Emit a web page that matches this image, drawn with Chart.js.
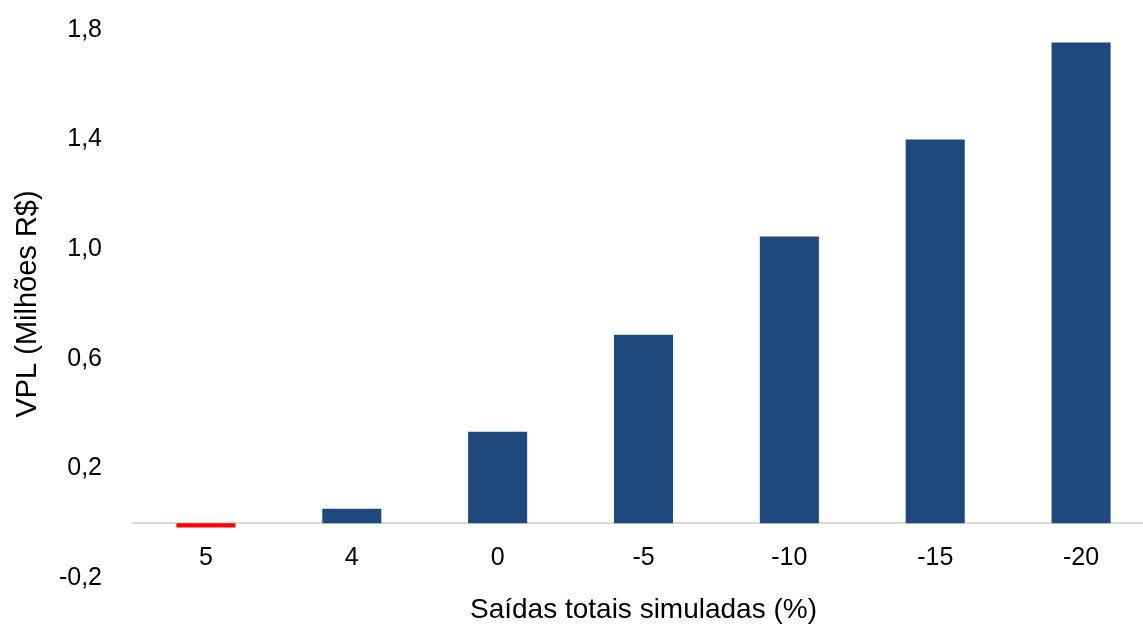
<!DOCTYPE html>
<html lang="pt-BR">
<head>
<meta charset="utf-8">
<title>VPL por saídas totais simuladas</title>
<script src="https://cdn.jsdelivr.net/npm/chart.js@4/dist/chart.umd.min.js"></script>
<style>
  html, body { margin: 0; padding: 0; background: #ffffff; overflow: hidden; }
  #wrap { position: relative; width: 1154px; height: 630px; }
</style>
</head>
<body>
<div id="wrap"><canvas id="chart"></canvas></div>
<script>
// Cenários de saídas totais simuladas (%)
const categories = ['5', '4', '0', '-5', '-10', '-15', '-20'];
// VPL em milhões de R$
const vplValues = [-0.016, 0.053, 0.334, 0.688, 1.046, 1.40, 1.754];
// Rótulos do eixo vertical
const yTickValues = [-0.2, 0.2, 0.6, 1.0, 1.4, 1.8];

const positiveColor = '#1F497D';
const negativeColor = '#FF0000';
const fontFamily = '"Liberation Sans", Arial, sans-serif';

const barColors = vplValues.map(v => (v < 0 ? negativeColor : positiveColor));

new Chart(document.getElementById('chart'), {
  type: 'bar',
  data: {
    labels: categories,
    datasets: [{
      data: vplValues,
      backgroundColor: barColors,
      borderWidth: 0,
      barPercentage: 0.405,
      categoryPercentage: 1.0
    }]
  },
  options: {
    responsive: true,
    maintainAspectRatio: false,
    animation: false,
    layout: { padding: { top: 30, right: 0, bottom: 52, left: 0 } },
    plugins: {
      legend: { display: false },
      tooltip: { enabled: false }
    },
    scales: {
      x: {
        position: { y: 0 },
        grid: { display: false, drawTicks: false },
        border: { display: true, color: '#D9D9D9', width: 2 },
        ticks: {
          color: '#000000',
          padding: 20,
          font: { family: fontFamily, size: 25 }
        },
        title: {
          display: true,
          text: 'Saídas totais simuladas (%)',
          color: '#000000',
          padding: { top: 0, bottom: 0 },
          font: { family: fontFamily, size: 28 }
        }
      },
      y: {
        min: -0.2,
        max: 1.8,
        afterBuildTicks: (scale) => {
          scale.ticks = yTickValues.map(v => ({ value: v }));
        },
        afterFit: (scale) => {
          scale.width = 133;
          scale.paddingTop = 0;
          scale.paddingBottom = 0;
        },
        grid: { display: false, drawTicks: false },
        border: { display: false },
        ticks: {
          color: '#000000',
          padding: 31,
          font: { family: fontFamily, size: 25 },
          callback: (value) => Number(value).toFixed(1).replace('.', ',')
        },
        title: {
          display: true,
          text: 'VPL (Milhões R$)',
          color: '#000000',
          padding: { top: 11, bottom: 0 },
          font: { family: fontFamily, size: 29 }
        }
      }
    }
  }
});
</script>
</body>
</html>
